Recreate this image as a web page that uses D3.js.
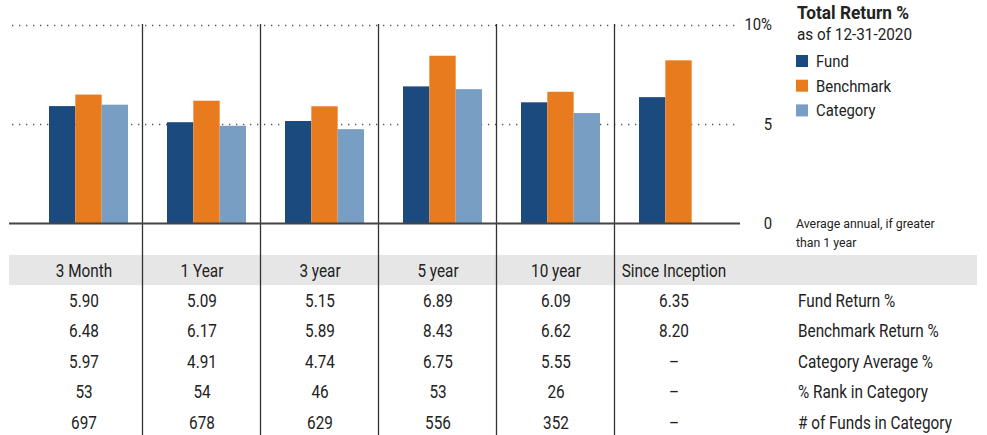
<!DOCTYPE html>
<html lang="en">
<head>
<meta charset="UTF-8">
<title>Total Return %</title>
<script src="https://d3js.org/d3.v7.min.js"></script>
<style>
    body{
        margin: 0;
        background: #fff;
        font-family: 'Roboto', 'Liberation Sans', sans-serif;
        color: #222;
    }
    svg text{ fill: #222; }
</style>
</head>
<body>
<div id="chart"></div>
<script>
    // chart data
    const periods = ["3 Month", "1 Year", "3 year", "5 year", "10 year", "Since Inception"];
    const fundReturn = [5.90, 5.09, 5.15, 6.89, 6.09, 6.35];
    const benchReturn = [6.48, 6.17, 5.89, 8.43, 6.62, 8.20];
    const catAverage = [5.97, 4.91, 4.74, 6.75, 5.55, null];
    const rankInCat = [53, 54, 46, 53, 26, null];
    const fundsInCat = [697, 678, 629, 556, 352, null];
    const seriesNames = ["Fund", "Benchmark", "Category"];
    const rowLabels = ["Fund Return %", "Benchmark Return %", "Category Average %", "% Rank in Category", "# of Funds in Category"];
    const yTicks = [0, 5, 10];

    const w = 987, h = 435;
    const colors = ["#1b4a7e", "#e97b1f", "#789ec4"];
    const tableFont = 17.5;

    const svg = d3.select("#chart").append("svg")
        .attr("width", w).attr("height", h);

    // the original uses a condensed face, so squeeze Roboto a bit
    function label(px, py, txt, size, opts) {
        opts = opts || {};
        const g = svg.append("g")
            .attr("transform", "translate(" + px + "," + py + ") scale(" + (opts.sx || 0.875) + ",1)");
        return g.append("text")
            .attr("text-anchor", opts.anchor || "start")
            .style("font-size", size + "px")
            .style("font-weight", opts.bold ? "bold" : null)
            .text(txt);
    }

    const x = d3.scaleBand().domain(periods).range([25, 733]);
    const xs = d3.scaleBand().domain(seriesNames).range([24, 103]);
    const y = d3.scaleLinear().domain([0, 10]).range([223.5, 24.5]);

    // grey header band
    svg.append("rect")
        .attr("x", 9).attr("y", 255)
        .attr("width", 968).attr("height", 30)
        .attr("fill", "#e6e6e6");

    // dotted grid
    svg.selectAll(".grid")
        .data(yTicks.filter(d => d > 0))
        .enter().append("line")
        .attr("x1", 12).attr("x2", 738)
        .attr("y1", d => Math.round(y(d)) + 0.5).attr("y2", d => Math.round(y(d)) + 0.5)
        .attr("stroke", "#555")
        .attr("stroke-width", 1.3)
        .attr("stroke-dasharray", "1.3,5.7");

    // bars
    const series = [fundReturn, benchReturn, catAverage];
    series.forEach((vals, s) => {
        svg.selectAll(".bar" + s)
            .data(periods.map((p, i) => ({p: p, v: vals[i]})).filter(d => d.v != null))
            .enter().append("rect")
            .attr("x", d => x(d.p) + xs(seriesNames[s]))
            .attr("width", xs.bandwidth())
            .attr("y", d => y(d.v))
            .attr("height", d => y(0) - y(d.v))
            .attr("fill", colors[s]);
    });

    // column separators
    svg.selectAll(".sep")
        .data(periods.slice(1))
        .enter().append("line")
        .attr("x1", d => Math.round(x(d)) - 0.5).attr("x2", d => Math.round(x(d)) - 0.5)
        .attr("y1", 24).attr("y2", h)
        .attr("stroke", "#333").attr("stroke-width", 1.3);

    // baseline
    svg.append("line")
        .attr("x1", 9).attr("x2", 740)
        .attr("y1", y(0)).attr("y2", y(0))
        .attr("stroke", "#444").attr("stroke-width", 2);

    // y labels
    yTicks.forEach(d => {
        label(772, y(d) + 5.5, d === 10 ? "10%" : d, 17, {anchor: "end"});
    });

    // legend
    label(797, 18.5, "Total Return %", 19, {bold: true, sx: 0.91});
    label(797, 39.5, "as of 12-31-2020", 17, {sx: 0.9});
    seriesNames.forEach((n, i) => {
        svg.append("rect")
            .attr("x", 796).attr("y", 55 + i * 24.7)
            .attr("width", 12).attr("height", 12)
            .attr("fill", colors[i]);
        label(816, 67 + i * 24.7, n, 17);
    });
    label(796, 228, "Average annual, if greater", 13.7, {sx: 0.9});
    label(796, 246.5, "than 1 year", 13.7, {sx: 0.9});

    // table
    periods.forEach(p => {
        label(x(p) + x.bandwidth() / 2, 277, p, tableFont, {anchor: "middle"});
    });

    const rows = [
        fundReturn.map(d => d.toFixed(2)),
        benchReturn.map(d => d.toFixed(2)),
        catAverage.map(d => d == null ? "–" : d.toFixed(2)),
        rankInCat.map(d => d == null ? "–" : d),
        fundsInCat.map(d => d == null ? "–" : d)
    ];
    const rowY = d3.scaleLinear().domain([0, 4]).range([306.5, 429]);

    rows.forEach((r, ri) => {
        r.forEach((d, i) => {
            label(x(periods[i]) + x.bandwidth() / 2, rowY(ri), d, tableFont, {anchor: "middle"});
        });
        label(798, rowY(ri), rowLabels[ri], tableFont);
    });
</script>
</body>
</html>
